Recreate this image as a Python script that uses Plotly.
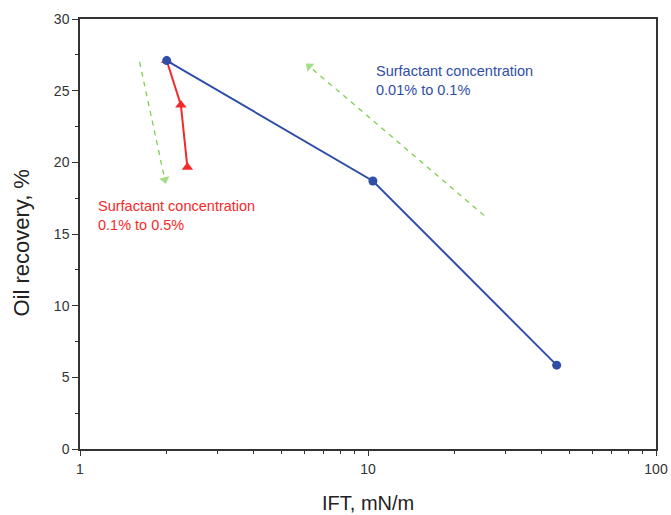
import plotly.graph_objects as go

# Blue series: surfactant concentration 0.01% to 0.1%
blue_ift = [2.0, 10.4, 45.2]
blue_rec = [27.1, 18.7, 5.85]

# Red series: surfactant concentration 0.1% to 0.5%
red_ift = [2.0, 2.24, 2.36]
red_rec = [27.1, 24.0, 19.65]

# Green dashed guide arrows (tail -> head), data coordinates
arrow1_x = [1.61, 1.97]
arrow1_y = [27.0, 18.8]
arrow2_x = [25.3, 6.25]
arrow2_y = [16.3, 26.7]

xtick_vals = [1, 10, 100]
xminor_vals = [2, 3, 4, 5, 6, 7, 8, 9, 20, 30, 40, 50, 60, 70, 80, 90]

BLUE = "#2f4ea8"
RED = "#f42a2a"
GREEN = "#7ccf50"
FONT = "Liberation Sans, Arial, sans-serif"

fig = go.Figure()

for ax_, ay_ in [(arrow1_x, arrow1_y), (arrow2_x, arrow2_y)]:
    fig.add_trace(go.Scatter(
        x=ax_, y=ay_, mode="lines+markers",
        line=dict(color=GREEN, width=1.3, dash="5px,5px"),
        marker=dict(symbol="triangle-up", size=[0, 9], color=GREEN,
                    angleref="previous", line=dict(width=0)),
        showlegend=False, hoverinfo="skip"))

fig.add_trace(go.Scatter(
    x=red_ift, y=red_rec, mode="lines+markers",
    line=dict(color=RED, width=2),
    marker=dict(symbol="triangle-up", size=10, color=RED),
    showlegend=False))

fig.add_trace(go.Scatter(
    x=blue_ift, y=blue_rec, mode="lines+markers",
    line=dict(color=BLUE, width=2),
    marker=dict(symbol="circle", size=9, color=BLUE),
    showlegend=False))

fig.add_annotation(x=1.0200, y=25.7, xref="x", yref="y",
                   text="Surfactant concentration<br>0.01% to 0.1%",
                   showarrow=False, xanchor="left", yanchor="middle", align="left",
                   font=dict(family=FONT, size=14.5, color=BLUE))
fig.add_annotation(x=0.054, y=16.3, xref="x", yref="y",
                   text="Surfactant concentration<br>0.1% to 0.5%",
                   showarrow=False, xanchor="left", yanchor="middle", align="left",
                   font=dict(family=FONT, size=14.5, color=RED))

# Axis titles
fig.add_annotation(x=0.5, y=0, xref="paper", yref="paper", yshift=-54,
                   text="IFT, mN/m", showarrow=False,
                   xanchor="center", yanchor="middle",
                   font=dict(family=FONT, size=20, color="#222"))
fig.add_annotation(x=0, y=0.48, xref="paper", yref="paper", xshift=-58,
                   text="Oil recovery, %", showarrow=False, textangle=-90,
                   xanchor="center", yanchor="middle",
                   font=dict(family=FONT, size=22, color="#222"))

fig.update_xaxes(
    type="log", range=[0, 2], automargin=False,
    tickvals=xtick_vals, ticktext=[str(v) for v in xtick_vals],
    ticks="outside", ticklen=5, tickwidth=1, tickcolor="#333",
    ticklabelstandoff=1,
    minor=dict(tickvals=xminor_vals, ticks="outside", ticklen=3, tickcolor="#333"),
    showline=True, linecolor="#333", linewidth=1.5, mirror=True,
    showgrid=False, zeroline=False,
    tickfont=dict(family=FONT, size=14, color="#333"),
)
fig.update_yaxes(
    range=[0, 30], dtick=5, automargin=False,
    ticks="outside", ticklen=6, tickwidth=1, tickcolor="#333",
    minor=dict(dtick=2.5, ticks="outside", ticklen=3, tickcolor="#333"),
    showline=True, linecolor="#333", linewidth=1.5, mirror=True,
    showgrid=False, zeroline=False,
    tickfont=dict(family=FONT, size=14, color="#333"),
)

fig.update_layout(
    width=671, height=515,
    margin=dict(l=80, r=15, t=19, b=66),
    plot_bgcolor="white", paper_bgcolor="white",
    font=dict(family=FONT),
)

fig.write_html("out.html")
